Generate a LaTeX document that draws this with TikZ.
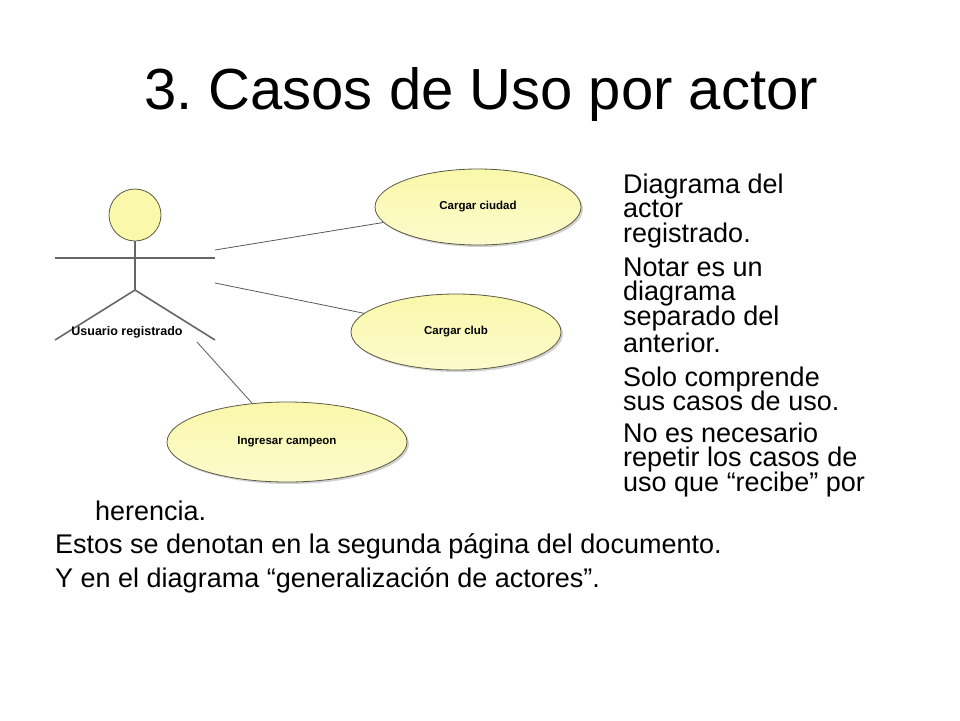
\documentclass[tikz,border=0pt]{standalone}
\usepackage{fontspec}
\setmainfont{Liberation Sans}
\usetikzlibrary{positioning,shapes.geometric,shadows}
\definecolor{ucfill}{RGB}{250,248,170}
\definecolor{ucline}{RGB}{90,90,70}
\frenchspacing
\tikzset{
  usecase/.style={ellipse, draw=ucline, thick, top color=ucfill, bottom color=ucfill!60!white,
                  font=\fontsize{11.5}{13}\selectfont\bfseries,
                  drop shadow={shadow xshift=2pt, shadow yshift=-2pt, fill=black!35}},
  stick/.style={draw=black!60, line width=1.6pt},
  assoc/.style={draw=black!65, line width=0.8pt},
  body/.style={anchor=base west, font=\fontsize{27}{30}\selectfont, inner sep=0pt},
}
\begin{document}
\begin{tikzpicture}[x=1pt,y=-1pt]
  \useasboundingbox (0,0) rectangle (960,720);
  \node[font=\fontsize{58}{66}\selectfont] (title) at (481,95) {3. Casos de Uso por actor};

  % actor
  \node[circle, draw=ucline, thick, fill=ucfill, minimum size=52pt, inner sep=0pt] (head) at (135,215) {};
  \coordinate (hip) at (135,290);
  \coordinate (armL) at (55,258);
  \coordinate (armR) at (215,258);
  \draw[stick] (head.south) -- (hip);
  \draw[stick] (armL) -- (armR);
  \draw[stick] (55,340) -- (hip) -- (215,340);
  \node[font=\fontsize{12.5}{14}\selectfont\bfseries] (actor) at (127,332) {Usuario registrado};
  \coordinate (a1) at (215,250);
  \coordinate (a2) at (215,283);
  \coordinate (a3) at (197,342);

  % casos de uso
  \node[usecase, minimum width=206pt, minimum height=76pt] (ciudad) at (478,207) {Cargar ciudad};
  \node[usecase, minimum width=210pt, minimum height=76pt] (club) at (456,332) {Cargar club};
  \node[usecase, minimum width=240pt, minimum height=80pt] (campeon) at (287,442) {Ingresar campeon};

  \draw[assoc] (a1) -- (ciudad);
  \draw[assoc] (a2) -- (club);
  \draw[assoc] (a3) -- (campeon);

  % texto
  \node[body] (t1) at (623,193) {Diagrama del};
  \node[body] (t2) at (623,217) {actor};
  \node[body] (t3) at (623,242) {registrado.};
  \node[body] (t4) at (623,276) {Notar es un};
  \node[body] (t5) at (623,300) {diagrama};
  \node[body] (t6) at (623,325) {separado del};
  \node[body] (t7) at (623,352) {anterior.};
  \node[body] (t8) at (623,386) {Solo comprende};
  \node[body] (t9) at (623,410) {sus casos de uso.};
  \node[body] (t10) at (623,442) {No es necesario};
  \node[body] (t11) at (623,466) {repetir los casos de};
  \node[body] (t12) at (623,491) {uso que “recibe” por};
  \node[body] (t13) at (95,520) {herencia.};
  \node[body] (t14) at (55,553) {Estos se denotan en la segunda página del documento.};
  \node[body] (t15) at (55,587) {Y en el diagrama “generalización de actores”.};
\end{tikzpicture}
\end{document}
